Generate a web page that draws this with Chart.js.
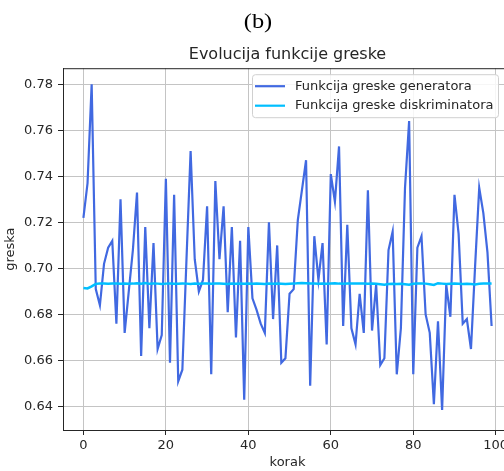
<!DOCTYPE html>
<html>
<head>
<meta charset="utf-8">
<script src="https://cdn.jsdelivr.net/npm/chart.js@4/dist/chart.umd.min.js"></script>
<style>
  html, body { margin: 0; padding: 0; background: #fff; overflow: hidden; width: 504px; height: 471px; }
  #wrap { position: relative; width: 504px; height: 471px; overflow: hidden; }
  #chart { position: absolute; left: 0; top: 0; }
  #panel { position: absolute; left: 258px; top: 11px; transform: translateX(-50%) scaleX(1.22);
           font-family: "Liberation Serif", "DejaVu Serif", serif; font-size: 20px; color: #000; line-height: 1; }
</style>
</head>
<body>
<div id="wrap">
  <canvas id="chart" width="512" height="471"></canvas>
  <div id="panel">(b)</div>
</div>
<script>
// koraci 0..99
const steps = Array.from({ length: 100 }, (_, i) => i);

// funkcija greske generatora (ocitano sa slike)
const generatorLoss = [
  0.722, 0.737, 0.780, 0.691, 0.684, 0.702, 0.709, 0.712, 0.676, 0.730,
  0.672, 0.690, 0.708, 0.733, 0.662, 0.718, 0.674, 0.711, 0.665, 0.671,
  0.739, 0.659, 0.732, 0.651, 0.656, 0.704, 0.751, 0.704, 0.690, 0.695,
  0.727, 0.654, 0.738, 0.704, 0.727, 0.681, 0.718, 0.670, 0.712, 0.643,
  0.718, 0.687, 0.682, 0.676, 0.672, 0.720, 0.678, 0.710, 0.659, 0.661,
  0.689, 0.691, 0.721, 0.734, 0.747, 0.649, 0.714, 0.695, 0.711, 0.667,
  0.741, 0.729, 0.753, 0.675, 0.719, 0.674, 0.667, 0.689, 0.672, 0.734,
  0.673, 0.693, 0.658, 0.661, 0.708, 0.716, 0.654, 0.674, 0.735, 0.764,
  0.654, 0.709, 0.714, 0.680, 0.672, 0.641, 0.677, 0.6385, 0.693, 0.679,
  0.732, 0.715, 0.676, 0.678, 0.665, 0.701, 0.735, 0.724, 0.707, 0.675
];

// funkcija greske diskriminatora
const discriminatorLoss = [
  0.6915, 0.6913, 0.6922, 0.6933, 0.6935, 0.6934, 0.6933, 0.6935, 0.6934, 0.6933,
  0.6935, 0.6933, 0.6934, 0.6936, 0.6934, 0.6937, 0.6933, 0.6935, 0.6934, 0.6932,
  0.6934, 0.6935, 0.6933, 0.6933, 0.6935, 0.6934, 0.6932, 0.6934, 0.6933, 0.6935,
  0.6934, 0.6933, 0.6935, 0.6934, 0.6933, 0.6932, 0.6934, 0.6933, 0.6935, 0.6933,
  0.6934, 0.6933, 0.6934, 0.6933, 0.6932, 0.6934, 0.6933, 0.6934, 0.6933, 0.6932,
  0.6933, 0.6934, 0.6936, 0.6937, 0.6936, 0.6935, 0.6934, 0.6933, 0.6934, 0.6933,
  0.6935, 0.6936, 0.6934, 0.6933, 0.6934, 0.6935, 0.6934, 0.6935, 0.6934, 0.6933,
  0.6934, 0.6933, 0.6931, 0.6929, 0.6932, 0.6933, 0.6932, 0.6933, 0.6931, 0.6929,
  0.6933, 0.6934, 0.6935, 0.6934, 0.6931, 0.6928, 0.6936, 0.6934, 0.6932, 0.6933,
  0.6934, 0.6933, 0.6932, 0.6933, 0.6932, 0.6930, 0.6933, 0.6934, 0.6934, 0.6935
];

const xTicks = [0, 20, 40, 60, 80, 100];
const yTicks = [0.64, 0.66, 0.68, 0.70, 0.72, 0.74, 0.76, 0.78];

const seriesNames = ["Funkcija greske generatora", "Funkcija greske diskriminatora"];
const seriesColors = ["#4169e1", "#00bfff"];

const FONT = "'DejaVu Sans', sans-serif";
const TEXT = "#262626";

// okvir oko podrucja crtanja (kao matplotlib spines)
const frame = {
    id: "frame",
    afterDatasetsDraw(chart) {
        const { ctx, chartArea: a } = chart;
        ctx.save();
        ctx.strokeStyle = "#262626";
        ctx.lineWidth = 1;
        ctx.strokeRect(a.left + 0.5, a.top + 0.5, a.right - a.left, a.bottom - a.top);
        ctx.restore();
    }
};

// legenda unutar grafa, gore desno
const boxLegend = {
    id: "boxLegend",
    afterDraw(chart) {
        const { ctx, chartArea: a } = chart;
        const x0 = a.left + 189, y0 = a.top + 6, w = 246, h = 43;
        ctx.save();
        ctx.beginPath();
        ctx.roundRect(x0 + 0.5, y0 + 0.5, w, h, 3);
        ctx.fillStyle = "rgba(255,255,255,0.85)";
        ctx.fill();
        ctx.strokeStyle = "#d0d0d0";
        ctx.lineWidth = 1;
        ctx.stroke();
        ctx.font = "13px " + FONT;
        ctx.textBaseline = "middle";
        chart.data.datasets.forEach((ds, i) => {
            const y = y0 + 12 + i * 19.5;
            ctx.beginPath();
            ctx.moveTo(x0 + 3, y);
            ctx.lineTo(x0 + 33, y);
            ctx.strokeStyle = ds.borderColor;
            ctx.lineWidth = 2.2;
            ctx.stroke();
            ctx.fillStyle = TEXT;
            ctx.fillText(ds.label, x0 + 43, y);
        });
        ctx.restore();
    }
};

function createChart() {
    const ctx = document.getElementById("chart").getContext("2d");

    new Chart(ctx, {
        type: "line",
        data: {
            labels: steps,
            datasets: [
                {
                    label: seriesNames[0],
                    data: generatorLoss.map((v, i) => ({ x: steps[i], y: v })),
                    borderColor: seriesColors[0],
                    borderWidth: 2.2,
                    pointRadius: 0,
                    tension: 0,
                    fill: false,
                    order: 1,
                },
                {
                    label: seriesNames[1],
                    data: discriminatorLoss.map((v, i) => ({ x: steps[i], y: v })),
                    borderColor: seriesColors[1],
                    borderWidth: 2.5,
                    pointRadius: 0,
                    tension: 0,
                    fill: false,
                    order: 0,
                },
            ],
        },
        options: {
            responsive: false,
            animation: false,
            layout: { padding: { left: 0, right: 0, top: 0, bottom: 0 } },
            plugins: {
                legend: { display: false },
                tooltip: { enabled: false },
                title: {
                    display: true,
                    text: "Evolucija funkcije greske",
                    color: TEXT,
                    font: { family: FONT, size: 16, weight: "normal" },
                    padding: { top: 45, bottom: 4 },
                    fullSize: false,
                },
            },
            scales: {
                x: {
                    type: "linear",
                    min: -4.95,
                    max: 103.95,
                    afterBuildTicks: (axis) => { axis.ticks = xTicks.map(v => ({ value: v })); },
                    afterFit: (axis) => { axis.height = 41; },
                    ticks: { color: TEXT, font: { family: FONT, size: 13 }, padding: 3, maxRotation: 0 },
                    grid: { color: "#c4c4c4", lineWidth: 1, tickLength: 5, tickColor: "#262626" },
                    border: { color: "#262626", width: 1 },
                    title: {
                        display: true, text: "korak", color: TEXT,
                        font: { family: FONT, size: 13 }, padding: { top: 0, bottom: 1 },
                    },
                },
                y: {
                    min: 0.6298,
                    max: 0.787,
                    afterBuildTicks: (axis) => { axis.ticks = yTicks.map(v => ({ value: v })); },
                    afterFit: (axis) => { axis.width = 63; },
                    ticks: {
                        color: TEXT, font: { family: FONT, size: 13 }, padding: 5,
                        callback: (v) => v.toFixed(2),
                    },
                    grid: { color: "#c4c4c4", lineWidth: 1, tickLength: 5, tickColor: "#262626" },
                    border: { color: "#262626", width: 1 },
                    title: {
                        display: true, text: "greska", color: TEXT,
                        font: { family: FONT, size: 13 }, padding: { top: 3, bottom: 0 },
                    },
                },
            },
        },
        plugins: [frame, boxLegend],
    });
}

window.onload = createChart;
</script>
</body>
</html>
